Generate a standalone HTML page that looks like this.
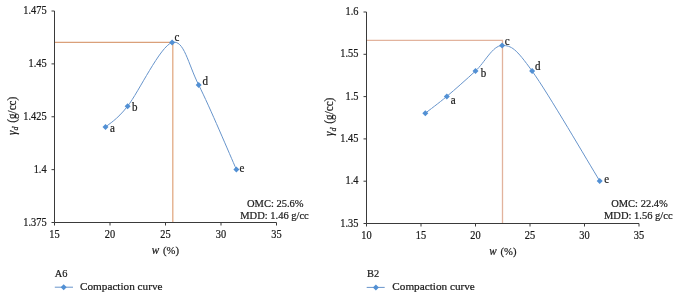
<!DOCTYPE html>
<html><head><meta charset="utf-8"><style>
html,body{margin:0;padding:0;background:#fff;}
body{width:680px;height:299px;overflow:hidden;}
svg{display:block;will-change:transform;}
text{font-family:"Liberation Serif", serif;fill:#1a1a1a;stroke:#1a1a1a;stroke-width:0.22px;}
</style></head><body>
<svg width="680" height="299" viewBox="0 0 680 299">
<path d="M172.8,42.4 V222.5" fill="none" stroke="#e2aa84" stroke-width="1.3"/>
<path d="M54.5,42.4 H173.4" fill="none" stroke="#daa07a" stroke-width="1.1"/>
<path d="M54.5,11 V222.5 H276.5" fill="none" stroke="#3a3a3a" stroke-width="1"/>
<path d="M51.5,11.00 H54.5" stroke="#3a3a3a" stroke-width="1"/>
<text transform="translate(46.60,14.00) scale(0.9,1)" font-size="11.5" text-anchor="end">1.475</text>
<path d="M51.5,63.88 H54.5" stroke="#3a3a3a" stroke-width="1"/>
<text transform="translate(46.60,66.88) scale(0.9,1)" font-size="11.5" text-anchor="end">1.45</text>
<path d="M51.5,116.75 H54.5" stroke="#3a3a3a" stroke-width="1"/>
<text transform="translate(46.60,119.75) scale(0.9,1)" font-size="11.5" text-anchor="end">1.425</text>
<path d="M51.5,169.63 H54.5" stroke="#3a3a3a" stroke-width="1"/>
<text transform="translate(46.60,172.63) scale(0.9,1)" font-size="11.5" text-anchor="end">1.4</text>
<path d="M51.5,222.50 H54.5" stroke="#3a3a3a" stroke-width="1"/>
<text transform="translate(46.60,225.50) scale(0.9,1)" font-size="11.5" text-anchor="end">1.375</text>
<path d="M54.50,222.5 V225.5" stroke="#3a3a3a" stroke-width="1"/>
<text transform="translate(54.50,237.60) scale(0.9,1)" font-size="11.5" text-anchor="middle">15</text>
<path d="M110.00,222.5 V225.5" stroke="#3a3a3a" stroke-width="1"/>
<text transform="translate(110.00,237.60) scale(0.9,1)" font-size="11.5" text-anchor="middle">20</text>
<path d="M165.50,222.5 V225.5" stroke="#3a3a3a" stroke-width="1"/>
<text transform="translate(165.50,237.60) scale(0.9,1)" font-size="11.5" text-anchor="middle">25</text>
<path d="M221.00,222.5 V225.5" stroke="#3a3a3a" stroke-width="1"/>
<text transform="translate(221.00,237.60) scale(0.9,1)" font-size="11.5" text-anchor="middle">30</text>
<path d="M276.50,222.5 V225.5" stroke="#3a3a3a" stroke-width="1"/>
<text transform="translate(276.50,237.60) scale(0.9,1)" font-size="11.5" text-anchor="middle">35</text>
<path d="M105.50,127.10 C109.18,123.62 116.50,120.30 127.60,106.20 C138.70,92.10 160.25,46.03 172.10,42.50 C183.95,38.97 187.98,63.83 198.70,85.00 C209.42,106.17 230.12,155.42 236.40,169.50" fill="none" stroke="#6794cb" stroke-width="1"/>
<path d="M105.50,124.10 L108.50,127.10 L105.50,130.10 L102.50,127.10Z" fill="#5290d4"/>
<path d="M127.60,103.20 L130.60,106.20 L127.60,109.20 L124.60,106.20Z" fill="#5290d4"/>
<path d="M172.10,39.50 L175.10,42.50 L172.10,45.50 L169.10,42.50Z" fill="#5290d4"/>
<path d="M198.70,82.00 L201.70,85.00 L198.70,88.00 L195.70,85.00Z" fill="#5290d4"/>
<path d="M236.40,166.50 L239.40,169.50 L236.40,172.50 L233.40,169.50Z" fill="#5290d4"/>
<text transform="translate(110.00,131.80) scale(0.95,1)" font-size="11.6" text-anchor="start">a</text>
<text transform="translate(132.00,111.10) scale(0.95,1)" font-size="11.6" text-anchor="start">b</text>
<text transform="translate(174.60,41.00) scale(0.95,1)" font-size="11.6" text-anchor="start">c</text>
<text transform="translate(202.60,85.10) scale(0.95,1)" font-size="11.6" text-anchor="start">d</text>
<text transform="translate(239.60,172.10) scale(0.95,1)" font-size="11.6" text-anchor="start">e</text>
<text transform="translate(275.30,206.70) scale(0.93,1)" font-size="11.3" text-anchor="middle">OMC: 25.6%</text>
<text transform="translate(274.50,218.50) scale(0.93,1)" font-size="11.3" text-anchor="middle">MDD: 1.46 g/cc</text>
<text transform="translate(165.4,253.8) scale(0.95,1)" font-size="11.2" text-anchor="middle"><tspan font-style="italic" font-size="11.8">w</tspan><tspan dx="1.2"> (%)</tspan></text>
<text transform="translate(15.8,115.9) rotate(-90) scale(0.96,1)" font-size="11.6" text-anchor="middle"><tspan font-style="italic">γ</tspan><tspan font-style="italic" font-size="8.2" dy="2.2">d</tspan><tspan dy="-2.2" dx="1.2"> (g/cc)</tspan></text>
<text transform="translate(54.80,276.90) scale(0.91,1)" font-size="11.4" text-anchor="start">A6</text>
<path d="M54.8,287.2 H73" stroke="#6794cb" stroke-width="1"/>
<path d="M63.70,284.20 L66.70,287.20 L63.70,290.20 L60.70,287.20Z" fill="#5290d4"/>
<text transform="translate(80.00,289.80) scale(0.985,1)" font-size="11.4" text-anchor="start">Compaction curve</text>
<path d="M366.5,40.4 H502.5 V223.5" fill="none" stroke="#e2b39d" stroke-width="1.3"/>
<path d="M366.5,12 V223.5 H639" fill="none" stroke="#3a3a3a" stroke-width="1"/>
<path d="M363.5,12.00 H366.5" stroke="#3a3a3a" stroke-width="1"/>
<text transform="translate(358.40,15.00) scale(0.9,1)" font-size="11.5" text-anchor="end">1.6</text>
<path d="M363.5,54.30 H366.5" stroke="#3a3a3a" stroke-width="1"/>
<text transform="translate(358.40,57.30) scale(0.9,1)" font-size="11.5" text-anchor="end">1.55</text>
<path d="M363.5,96.60 H366.5" stroke="#3a3a3a" stroke-width="1"/>
<text transform="translate(358.40,99.60) scale(0.9,1)" font-size="11.5" text-anchor="end">1.5</text>
<path d="M363.5,138.90 H366.5" stroke="#3a3a3a" stroke-width="1"/>
<text transform="translate(358.40,141.90) scale(0.9,1)" font-size="11.5" text-anchor="end">1.45</text>
<path d="M363.5,181.20 H366.5" stroke="#3a3a3a" stroke-width="1"/>
<text transform="translate(358.40,184.20) scale(0.9,1)" font-size="11.5" text-anchor="end">1.4</text>
<path d="M363.5,223.50 H366.5" stroke="#3a3a3a" stroke-width="1"/>
<text transform="translate(358.40,226.50) scale(0.9,1)" font-size="11.5" text-anchor="end">1.35</text>
<path d="M366.50,223.5 V226.5" stroke="#3a3a3a" stroke-width="1"/>
<text transform="translate(366.50,238.70) scale(0.9,1)" font-size="11.5" text-anchor="middle">10</text>
<path d="M421.00,223.5 V226.5" stroke="#3a3a3a" stroke-width="1"/>
<text transform="translate(421.00,238.70) scale(0.9,1)" font-size="11.5" text-anchor="middle">15</text>
<path d="M475.50,223.5 V226.5" stroke="#3a3a3a" stroke-width="1"/>
<text transform="translate(475.50,238.70) scale(0.9,1)" font-size="11.5" text-anchor="middle">20</text>
<path d="M530.00,223.5 V226.5" stroke="#3a3a3a" stroke-width="1"/>
<text transform="translate(530.00,238.70) scale(0.9,1)" font-size="11.5" text-anchor="middle">25</text>
<path d="M584.50,223.5 V226.5" stroke="#3a3a3a" stroke-width="1"/>
<text transform="translate(584.50,238.70) scale(0.9,1)" font-size="11.5" text-anchor="middle">30</text>
<path d="M639.00,223.5 V226.5" stroke="#3a3a3a" stroke-width="1"/>
<text transform="translate(639.00,238.70) scale(0.9,1)" font-size="11.5" text-anchor="middle">35</text>
<path d="M425.30,113.20 C428.88,110.40 438.43,103.43 446.80,96.40 C455.17,89.37 466.28,79.48 475.50,71.00 C484.72,62.52 492.67,45.50 502.10,45.50 C511.53,45.50 515.83,48.43 532.10,71.00 C548.37,93.57 588.43,162.58 599.70,180.90" fill="none" stroke="#6794cb" stroke-width="1"/>
<path d="M425.30,110.20 L428.30,113.20 L425.30,116.20 L422.30,113.20Z" fill="#5290d4"/>
<path d="M446.80,93.40 L449.80,96.40 L446.80,99.40 L443.80,96.40Z" fill="#5290d4"/>
<path d="M475.50,68.00 L478.50,71.00 L475.50,74.00 L472.50,71.00Z" fill="#5290d4"/>
<path d="M502.10,42.50 L505.10,45.50 L502.10,48.50 L499.10,45.50Z" fill="#5290d4"/>
<path d="M532.10,68.00 L535.10,71.00 L532.10,74.00 L529.10,71.00Z" fill="#5290d4"/>
<path d="M599.70,177.90 L602.70,180.90 L599.70,183.90 L596.70,180.90Z" fill="#5290d4"/>
<text transform="translate(450.80,103.90) scale(0.95,1)" font-size="11.6" text-anchor="start">a</text>
<text transform="translate(480.80,76.90) scale(0.95,1)" font-size="11.6" text-anchor="start">b</text>
<text transform="translate(504.80,44.50) scale(0.95,1)" font-size="11.6" text-anchor="start">c</text>
<text transform="translate(535.10,69.90) scale(0.95,1)" font-size="11.6" text-anchor="start">d</text>
<text transform="translate(604.20,183.10) scale(0.95,1)" font-size="11.6" text-anchor="start">e</text>
<text transform="translate(639.50,206.90) scale(0.93,1)" font-size="11.3" text-anchor="middle">OMC: 22.4%</text>
<text transform="translate(638.30,218.70) scale(0.93,1)" font-size="11.3" text-anchor="middle">MDD: 1.56 g/cc</text>
<text transform="translate(502.9,254.6) scale(0.95,1)" font-size="11.2" text-anchor="middle"><tspan font-style="italic" font-size="11.8">w</tspan><tspan dx="1.2"> (%)</tspan></text>
<text transform="translate(333.3,116.8) rotate(-90) scale(0.96,1)" font-size="11.6" text-anchor="middle"><tspan font-style="italic">γ</tspan><tspan font-style="italic" font-size="8.2" dy="2.2">d</tspan><tspan dy="-2.2" dx="1.2"> (g/cc)</tspan></text>
<text transform="translate(367.00,277.10) scale(0.91,1)" font-size="11.4" text-anchor="start">B2</text>
<path d="M366.7,287.4 H384.7" stroke="#6794cb" stroke-width="1"/>
<path d="M375.90,284.40 L378.90,287.40 L375.90,290.40 L372.90,287.40Z" fill="#5290d4"/>
<text transform="translate(392.30,289.90) scale(0.985,1)" font-size="11.4" text-anchor="start">Compaction curve</text>
</svg>
</body></html>
